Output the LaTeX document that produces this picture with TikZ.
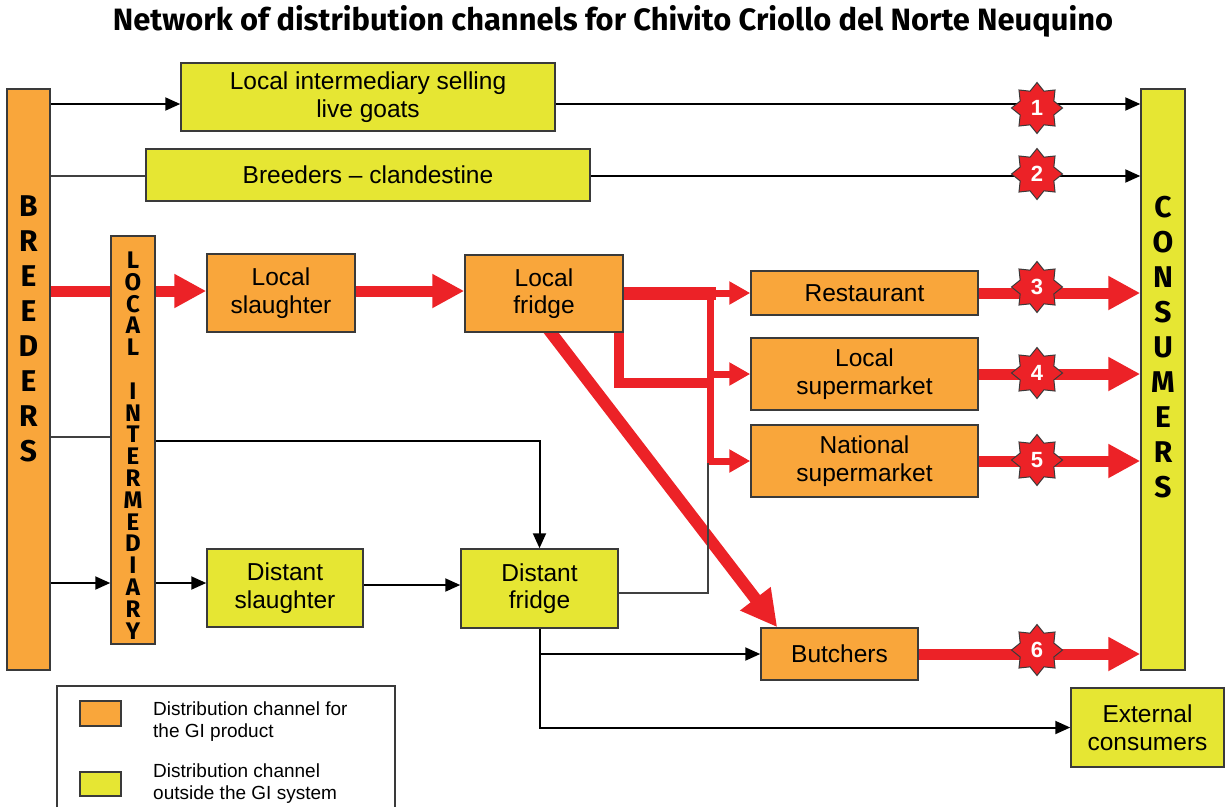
\documentclass[tikz,border=0pt]{standalone}
\usepackage{graphicx}
\usepackage{fontspec}
\setmainfont{Liberation Sans}
\newfontfamily\titlefont{Fira Sans}
\usetikzlibrary{arrows.meta,shapes.geometric,calc}
\definecolor{orF}{HTML}{F9A63B}
\definecolor{yeF}{HTML}{E6E633}
\definecolor{reC}{HTML}{EC2227}
\definecolor{bdC}{HTML}{3A3A3A}
\pgfdeclarelayer{bg}
\pgfsetlayers{bg,main}
\tikzset{
 box/.style={draw=bdC, line width=1.5pt, inner sep=0pt, align=center, font=\fontsize{24.5}{27.5}\selectfont},
 obox/.style={box, fill=orF},
 ybox/.style={box, fill=yeF},
 blk/.style={draw=black, line width=2pt, -{Triangle[length=15pt,width=13pt]}},
 thinln/.style={draw=black!75, line width=1.3pt},
 redbig/.style={draw=reC, line width=11pt, -{Triangle[length=32pt,width=32pt]}},
 redline/.style={draw=reC, line width=11pt},
 redmid/.style={draw=reC, line width=7pt, -{Triangle[length=21pt,width=22pt]}},
 badge/.style={star, star points=8, star point ratio=1.4, minimum size=51pt, inner sep=0pt, fill=reC, draw=bdC, line width=1pt, text=white, font=\fontsize{22}{22}\selectfont\bfseries},
 vlet/.style={font=\titlefont\bfseries\fontsize{30}{35}\selectfont, align=center, inner sep=0pt},
 smallvlet/.style={font=\titlefont\bfseries\fontsize{24}{21.8}\selectfont, align=center, inner sep=0pt},
 legtext/.style={anchor=west, align=left, inner sep=0pt, font=\fontsize{19}{22}\selectfont},
}
\begin{document}
\begin{tikzpicture}[x=1pt,y=-1pt]
\useasboundingbox (0,0) rectangle (1225,807);
% title
\node[font=\titlefont\bfseries, inner sep=0pt] (title) at (613,21) {\resizebox{1000pt}{!}{Network of distribution channels for Chivito Criollo del Norte Neuquino}};
% tall boxes
\node[obox, minimum width=43pt, minimum height=581pt] (breed) at (28.5,379.5) {};
\node[vlet] (breedtxt) at (28.5,329) {B\\R\\E\\E\\D\\E\\R\\S};
\node[obox, minimum width=44pt, minimum height=408pt] (lint) at (133,440) {};
\node[smallvlet] (linttxt) at (133,445.5) {L\\O\\C\\A\\L\\[21.8pt]I\\N\\T\\E\\R\\M\\E\\D\\I\\A\\R\\Y};
\node[ybox, minimum width=44pt, minimum height=581pt] (cons) at (1163,379.5) {};
\node[vlet] (constxt) at (1163,347) {C\\O\\N\\S\\U\\M\\E\\R\\S};
% boxes
\node[ybox, minimum width=374pt, minimum height=68pt] (sell) at (368,97) {Local intermediary selling\\live goats};
\node[ybox, minimum width=444pt, minimum height=52pt] (cland) at (368,175) {Breeders -- clandestine};
\node[obox, minimum width=148pt, minimum height=78pt] (lslau) at (281,293) {Local\\slaughter};
\node[obox, minimum width=158pt, minimum height=77pt] (lfridge) at (544,293.5) {Local\\fridge};
\node[obox, minimum width=227pt, minimum height=44pt] (rest) at (864.5,293) {Restaurant};
\node[obox, minimum width=227pt, minimum height=72pt] (lsup) at (864.5,374) {Local\\supermarket};
\node[obox, minimum width=227pt, minimum height=72pt] (nsup) at (864.5,461) {National\\supermarket};
\node[ybox, minimum width=156pt, minimum height=78pt] (dslau) at (285,588) {Distant\\slaughter};
\node[ybox, minimum width=157pt, minimum height=79pt] (dfridge) at (539.5,588.5) {Distant\\fridge};
\node[obox, minimum width=157pt, minimum height=52pt] (butch) at (839.5,654) {Butchers};
\node[ybox, minimum width=153pt, minimum height=79pt] (ext) at (1147.5,727.5) {External\\consumers};
% legend
\node[minimum width=338pt, minimum height=121pt, inner sep=0pt] (legend) at (226,746.5) {};
\draw[draw=bdC, line width=1.5pt] (legend.south west) -- (legend.north west) -- (legend.north east) -- (legend.south east);
\node[obox, line width=1.3pt, minimum width=41pt, minimum height=25pt] (lgo) at (100.5,713.5) {};
\node[ybox, line width=1.3pt, minimum width=41pt, minimum height=24pt] (lgy) at (100.5,784) {};
\node[legtext] (lgot) at (153,722) {Distribution channel for\\the GI product};
\node[legtext] (lgyt) at (153,784) {Distribution channel\\outside the GI system};
% coordinates
\coordinate (r1) at (0,104);
\coordinate (r2) at (0,176);
\coordinate (r3) at (0,291);
\coordinate (r4) at (0,437);
\coordinate (r4b) at (0,441);
\coordinate (r5) at (0,583);
\coordinate (r6) at (0,585);
\coordinate (r7) at (0,593);
\coordinate (jtop) at (710,287);
\coordinate (jR) at (716,293.5);
\coordinate (jL) at (714,383);
\coordinate (jbot) at (710,465);
\coordinate (kx) at (708,463);
\begin{pgfonlayer}{bg}
\draw[blk] (breed.east |- r1) -- (sell.west |- r1);
\draw[blk] (sell.east |- r1) -- (cons.west |- r1);
\draw[thinln] (breed.east |- r2) -- (cland.west |- r2);
\draw[blk] (cland.east |- r2) -- (cons.west |- r2);
\draw[redline] (breed.east |- r3) -- (lint.west |- r3);
\draw[redbig] (lint.east |- r3) -- (lslau.west |- r3);
\draw[redbig] (lslau.east |- r3) -- (lfridge.west |- r3);
\draw[redline, line width=13pt] (lfridge.east) -- (jR);
\draw[redline, line width=7pt] (jtop) -- (jbot);
\draw[redline, line width=10pt] ([xshift=-5pt,yshift=3pt]lfridge.south east) |- (jL);
\draw[redmid] (jtop |- rest) -- (rest.west);
\draw[redmid] (jtop |- lsup) -- (lsup.west);
\draw[redmid] (jtop |- nsup) -- (nsup.west);
\draw[redbig, line width=12pt, -{Triangle[length=36pt,width=36pt]}] ([xshift=4pt,yshift=4pt]lfridge.south) -- ([xshift=17pt]butch.north west);
\draw[redbig] (rest.east) -- (cons.west |- rest);
\draw[redbig] (lsup.east) -- (cons.west |- lsup);
\draw[redbig] (nsup.east) -- (cons.west |- nsup);
\draw[redbig] (butch.east) -- (cons.west |- butch);
\draw[thinln] (breed.east |- r4) -- (lint.west |- r4);
\draw[blk] (lint.east |- r4b) -| (dfridge.north);
\draw[blk] (breed.east |- r5) -- (lint.west |- r5);
\draw[blk] (lint.east |- r5) -- (dslau.west |- r5);
\draw[blk] (dslau.east |- r6) -- (dfridge.west |- r6);
\draw[thinln, line width=1.2pt] (dfridge.east |- r7) -| (kx);
\draw[blk] (dfridge.south) |- (butch.west);
\draw[blk] (dfridge.south) |- (ext.west);
\end{pgfonlayer}
% badges
\node[badge] (s1) at (1037,108) {1};
\node[badge] (s2) at (1037,174) {2};
\node[badge] (s3) at (1037,287) {3};
\node[badge] (s4) at (1037,373) {4};
\node[badge] (s5) at (1037,460) {5};
\node[badge] (s6) at (1037,650) {6};
\end{tikzpicture}
\end{document}
